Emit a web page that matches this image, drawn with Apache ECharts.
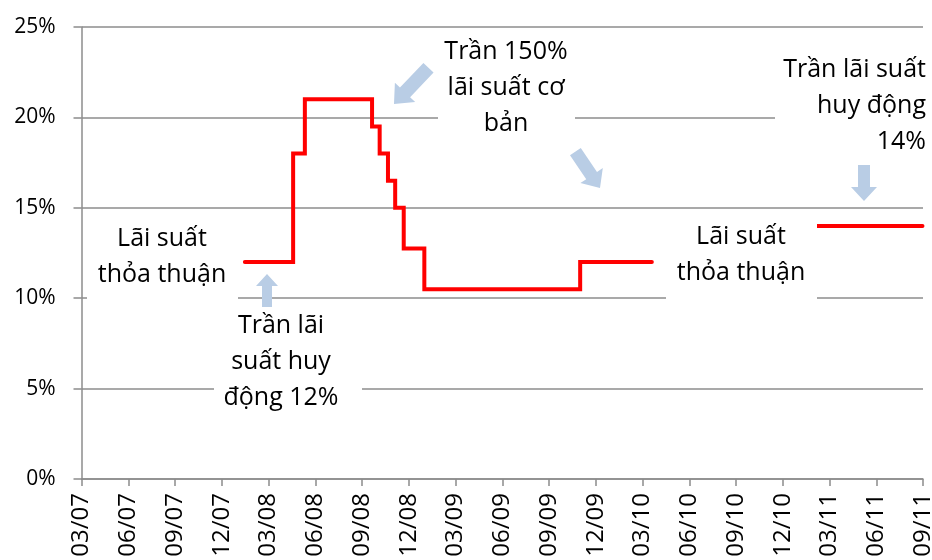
<!DOCTYPE html>
<html><head><meta charset="utf-8">
<script src="https://cdn.jsdelivr.net/npm/echarts@6/dist/echarts.min.js"></script>
<style>html,body{margin:0;padding:0;background:#fff}#c{width:932px;height:560px}</style>
</head><body><div id="c"></div>
<script>
// Tick labels (quarter ends)
const tickLabels = ['03/07','06/07','09/07','12/07','03/08','06/08','09/08','12/08','03/09','06/09','09/09','12/09','03/10','06/10','09/10','12/10','03/11','06/11','09/11'];
// Period 1: deposit cap 12% then 150% of base rate cap (change dates, % values)
const capDates  = ['2008-02-15','2008-05-19','2008-06-11','2008-10-21','2008-11-05','2008-11-21','2008-12-05','2008-12-22','2009-02-01','2009-12-01','2010-04-19'];
const capValues = [12, 18, 21, 19.5, 18, 16.5, 15, 12.75, 10.5, 12, 12];
// Period 2: deposit cap 14%
const cap14Dates  = ['2011-03-05','2011-09-30'];
const cap14Values = [14, 14];
// Annotations
const notes = [
  {text:'Lãi suất\nthỏa thuận', x:162, y:257, align:'center', box:[87,216,151,88]},
  {text:'Trần lãi\nsuất huy\nđộng 12%', x:281, y:362, align:'center', box:[214,306,148,110]},
  {text:'Trần 150%\nlãi suất cơ\nbản', x:506, y:88, align:'center', box:[438,34,137,108]},
  {text:'Lãi suất\nthỏa thuận', x:741, y:255, align:'center', box:[666,216,151,88]},
  {text:'Trần lãi suất\nhuy động\n14%', x:926, y:106, align:'right', box:[775,44,157,108]}
];

function monthIndex(s){
  const [y,m,d] = s.split('-').map(Number);
  const dim = new Date(y, m, 0).getDate();
  return (y-2007)*12 + (m-4) + (d-1)/dim;
}
const data1 = capDates.map((d,i)=>[monthIndex(d), capValues[i]]);
const data2 = cap14Dates.map((d,i)=>[monthIndex(d), cap14Values[i]]);

function arrow(tx, ty, ang, len, sw, hw, hl){
  const a = ang*Math.PI/180, c=Math.cos(a), s=Math.sin(a);
  const loc = [[0,0],[-hl,hw/2],[-hl,sw/2],[-len,sw/2],[-len,-sw/2],[-hl,-sw/2],[-hl,-hw/2]];
  return {type:'polygon', z:100, shape:{points: loc.map(([px,py])=>[tx+px*c-py*s, ty+px*s+py*c])}, style:{fill:'#B9CDE5'}};
}

const FONT = '"Open Sans", "Noto Sans", sans-serif';
const graphics = [];
notes.forEach(n=>{
  graphics.push({type:'rect', z:100, shape:{x:n.box[0], y:n.box[1], width:n.box[2], height:n.box[3]}, style:{fill:'#fff'}});
  graphics.push({type:'text', z:101, style:{text:n.text, x:n.x, y:n.y, textAlign:n.align, textVerticalAlign:'middle', font:'25px '+FONT, lineHeight:36, fill:'#000'}});
});
graphics.push(arrow(267, 274, -90, 33, 10, 22, 12));
graphics.push(arrow(394, 104, 133.6, 50, 14, 28, 16));
graphics.push(arrow(600, 188, 56, 44, 13, 27, 15));
graphics.push(arrow(864, 201, 90, 36, 12, 26, 14));

const lineStyle = {color:'#FF0000', width:4, cap:'round', join:'miter'};
const chart = echarts.init(document.getElementById('c'), null, {renderer:'canvas'});
chart.setOption({
  animation:false,
  backgroundColor:'#fff',
  grid:{left:81.5, right:9, top:27, bottom:81, containLabel:false, outerBoundsMode:'none'},
  xAxis:{
    type:'value', min:0, max:54, interval:3,
    axisLine:{show:true, lineStyle:{color:'#8c8c8c', width:1.5}},
    axisTick:{show:true, length:7, lineStyle:{color:'#8c8c8c', width:1.5}},
    splitLine:{show:false},
    axisLabel:{rotate:90, margin:14, fontSize:24, fontFamily:FONT, color:'#000', showMaxLabel:true, showMinLabel:true,
      formatter:v=>tickLabels[Math.round(v/3)]}
  },
  yAxis:{
    type:'value', min:0, max:25, interval:5,
    axisLine:{show:true, lineStyle:{color:'#8c8c8c', width:1.5}},
    axisTick:{show:true, length:8, lineStyle:{color:'#8c8c8c', width:1.5}},
    splitLine:{show:true, lineStyle:{color:'#8c8c8c', width:1.5}},
    axisLabel:{margin:26, fontSize:21, fontFamily:FONT, color:'#000', formatter:'{value}%'}
  },
  series:[
    {type:'line', step:'end', data:data1, showSymbol:false, symbol:'none', lineStyle:lineStyle},
    {type:'line', step:'end', data:data2, showSymbol:false, symbol:'none', lineStyle:lineStyle}
  ],
  graphic:graphics
});
</script></body></html>
